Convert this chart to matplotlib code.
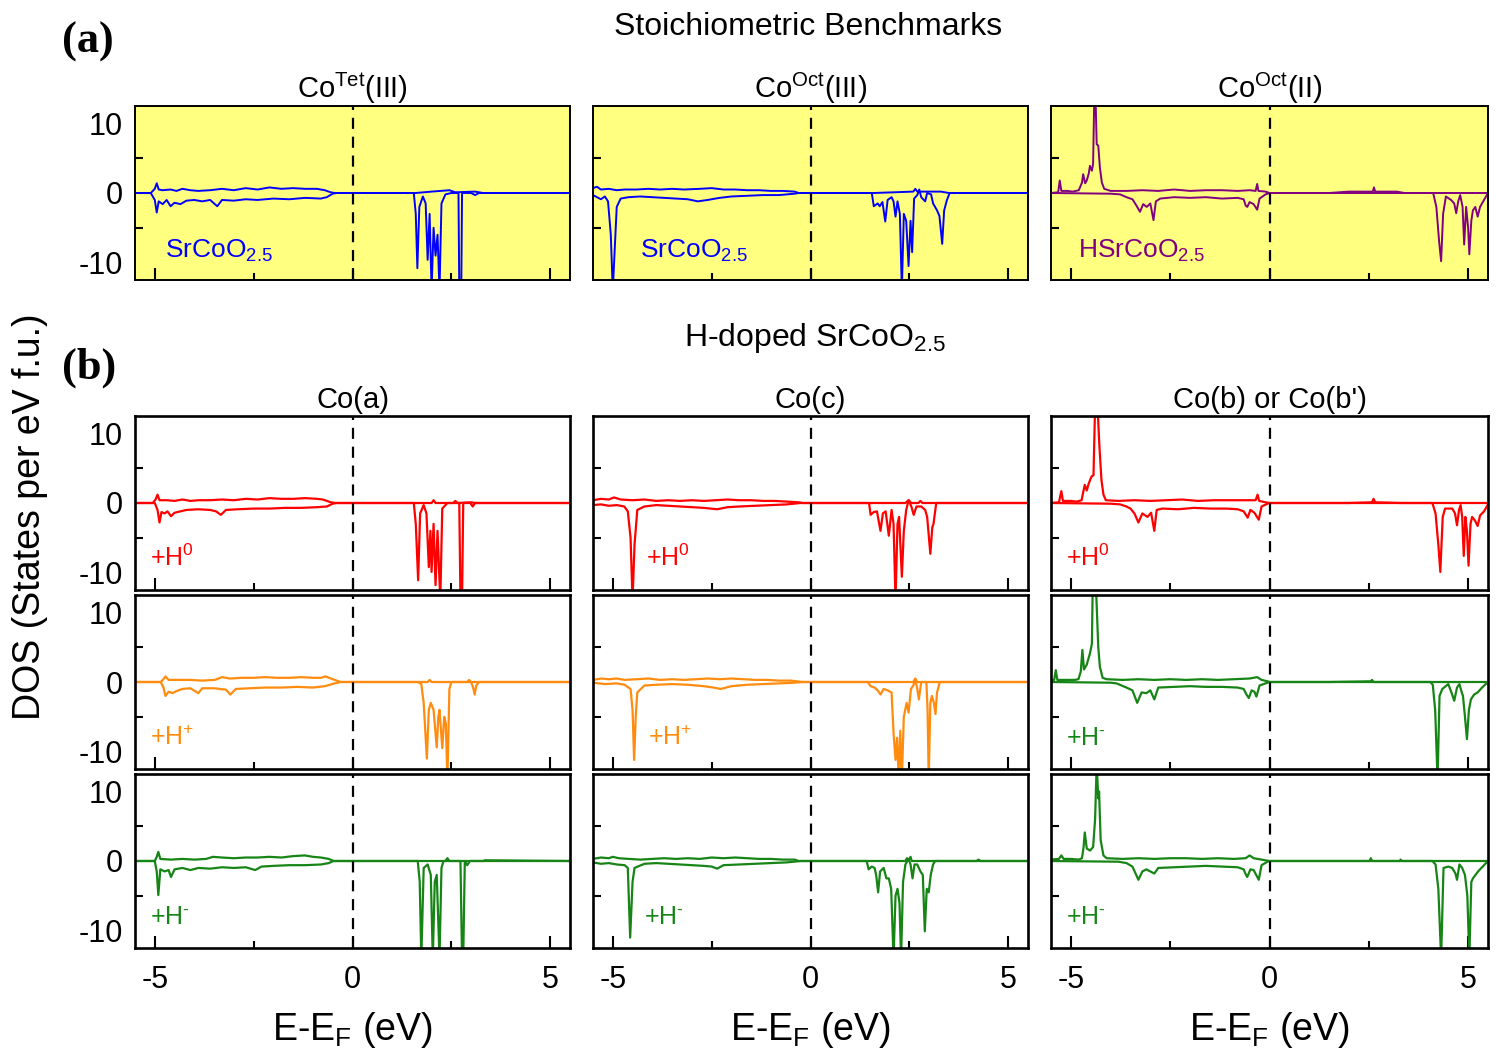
import numpy as np
import matplotlib.pyplot as plt

plt.rcParams['font.family'] = ['Liberation Sans', 'DejaVu Sans']
plt.rcParams['mathtext.fontset'] = 'custom'
plt.rcParams['mathtext.rm'] = 'Liberation Sans'
plt.rcParams['mathtext.it'] = 'Liberation Sans:italic'
plt.rcParams['mathtext.bf'] = 'Liberation Sans:bold'
plt.rcParams['axes.unicode_minus'] = False

# ---- data: (E - E_F [eV], DOS) pairs, spin up / spin down ----
# (a) stoichiometric benchmarks
tet3_up = [(-5.5, 0), (-5.1, 0), (-5.0, 0.6), (-4.95, 1.4), (-4.9, 0.5), (-4.8, 0.4), (-4.6, 0.5), (-4.45, 0.3),
           (-4.3, 0.6), (-4.1, 0.4), (-3.9, 0.3), (-3.6, 0.4), (-3.3, 0.6), (-3.0, 0.4), (-2.7, 0.7), (-2.4, 0.5),
           (-2.1, 0.8), (-1.8, 0.6), (-1.5, 0.7), (-1.2, 0.6), (-0.9, 0.6), (-0.7, 0.4), (-0.55, 0.1), (-0.45, 0),
           (1.6, 0), (2.0, 0.2), (2.45, 0.4), (2.6, 0.1), (3.1, 0.2), (3.3, 0), (5.5, 0)]
tet3_dn = [(-5.5, 0), (-5.1, 0), (-5.0, -1.0), (-4.95, -2.8), (-4.9, -1.2), (-4.8, -1.6), (-4.7, -1.0), (-4.6, -1.9),
           (-4.5, -1.4), (-4.35, -1.6), (-4.2, -1.1), (-4.0, -1.0), (-3.8, -1.2), (-3.6, -1.0), (-3.42, -1.9),
           (-3.3, -1.0), (-3.0, -1.1), (-2.7, -0.9), (-2.4, -1.0), (-2.0, -0.8), (-1.6, -0.9), (-1.2, -0.7),
           (-0.8, -0.8), (-0.65, -0.6), (-0.5, -0.1), (-0.4, 0), (1.55, 0), (1.6, -3), (1.64, -10.8), (1.69, -2),
           (1.78, -0.5), (1.85, -1.5), (1.9, -9.6), (1.95, -3), (2.0, -14), (2.05, -5), (2.1, -9.0), (2.15, -6),
           (2.2, -14), (2.25, -1.5), (2.35, -0.2), (2.5, 0), (2.68, 0), (2.7, -14), (2.75, -14), (2.77, 0),
           (3.0, 0), (3.1, -0.3), (3.2, 0), (5.5, 0)]

oct3_up = [(-5.5, 0.7), (-5.4, 0.9), (-5.3, 0.5), (-5.1, 0.6), (-4.9, 0.4), (-4.7, 0.5), (-4.4, 0.5), (-4.1, 0.6),
           (-3.8, 0.5), (-3.5, 0.6), (-3.2, 0.5), (-2.8, 0.6), (-2.5, 0.7), (-2.2, 0.5), (-1.9, 0.5), (-1.6, 0.4),
           (-1.3, 0.4), (-1.0, 0.3), (-0.7, 0.3), (-0.4, 0.2), (-0.3, 0), (1.6, 0), (2.6, 0.2), (2.65, 0.6),
           (2.7, 0.2), (3.3, 0.2), (3.5, 0), (5.5, 0)]
oct3_dn = [(-5.5, -0.3), (-5.4, -0.6), (-5.3, -0.9), (-5.2, -0.5), (-5.12, -1.2), (-5.05, -6), (-5.0, -14),
           (-4.95, -8), (-4.9, -2), (-4.8, -0.8), (-4.6, -0.6), (-4.3, -0.5), (-4.0, -0.6), (-3.7, -0.7),
           (-3.4, -0.8), (-3.1, -0.9), (-2.85, -1.2), (-2.6, -1.0), (-2.3, -0.7), (-2.0, -0.5), (-1.6, -0.4),
           (-1.2, -0.3), (-0.8, -0.3), (-0.4, -0.1), (-0.3, 0), (1.55, 0), (1.6, -1.9), (1.7, -1.5), (1.75, -1.9),
           (1.82, -1.3), (1.89, -4.1), (1.95, -1.0), (2.05, -0.6), (2.1, -1.2), (2.15, -3.4), (2.2, -1.2),
           (2.26, -3), (2.31, -14), (2.36, -3), (2.42, -4), (2.48, -10.5), (2.53, -4), (2.57, -8.5), (2.62, -0.8),
           (2.7, -0.3), (2.75, 0.5), (2.8, -0.6), (2.9, -1.2), (2.95, 0), (3.05, -0.2), (3.1, -1.5), (3.2, -2.5),
           (3.26, -3.3), (3.33, -7.3), (3.38, -2.5), (3.45, -1.0), (3.52, 0), (5.5, 0)]

oct2_up = [(-5.5, 0), (-5.32, 0.1), (-5.28, 1.8), (-5.24, 0.3), (-5.1, 0.3), (-4.95, 0.2), (-4.8, 0.4), (-4.72, 1.5),
           (-4.69, 2.7), (-4.64, 1.4), (-4.6, 1.8), (-4.55, 2.8), (-4.52, 3.9), (-4.47, 3.2), (-4.44, 4.2),
           (-4.41, 14), (-4.38, 14), (-4.35, 7.0), (-4.31, 6.8), (-4.27, 3.7), (-4.22, 1.5), (-4.16, 0.6),
           (-4.0, 0.3), (-3.6, 0.3), (-3.2, 0.4), (-2.8, 0.3), (-2.4, 0.5), (-2.0, 0.3), (-1.6, 0.4), (-1.2, 0.4),
           (-0.8, 0.3), (-0.5, 0.4), (-0.35, 0.3), (-0.31, 1.3), (-0.28, 0.3), (-0.1, 0.2), (0, 0), (1.5, 0),
           (2.0, 0.2), (2.6, 0.2), (2.63, 0.8), (2.66, 0.2), (3.2, 0.2), (3.4, 0), (5.5, 0)]
oct2_dn = [(-5.5, 0), (-4.0, -0.1), (-3.76, -0.2), (-3.6, -0.6), (-3.45, -0.9), (-3.35, -1.8), (-3.26, -2.7),
           (-3.18, -1.6), (-3.09, -2.0), (-3.0, -1.5), (-2.92, -3.9), (-2.86, -1.2), (-2.75, -0.8), (-2.4, -0.6),
           (-2.0, -0.7), (-1.6, -0.6), (-1.2, -0.8), (-0.8, -0.7), (-0.65, -0.9), (-0.6, -1.8), (-0.56, -2.0),
           (-0.5, -1.3), (-0.4, -1.6), (-0.31, -2.4), (-0.25, -0.8), (-0.1, -0.2), (0, 0), (4.12, 0), (4.2, -2),
           (4.27, -7), (4.32, -9.8), (4.37, -3), (4.44, -0.5), (4.57, -1.0), (4.65, -1.5), (4.7, -2.9),
           (4.75, -1.2), (4.8, -0.3), (4.86, -2), (4.9, -7.4), (4.95, -2), (5.0, -5), (5.03, -8.8), (5.08, -4),
           (5.12, -2.5), (5.18, -2.0), (5.24, -3.4), (5.3, -2.0), (5.38, -1.2), (5.45, -0.5), (5.5, 0)]

# (b) H-doped SrCoO2.5 -- Co(a)
coa_h0_up = [(-5.5, 0), (-5.05, 0), (-4.98, 0.5), (-4.93, 1.2), (-4.88, 0.4), (-4.7, 0.4), (-4.5, 0.3), (-4.3, 0.5),
             (-4.1, 0.3), (-3.9, 0.4), (-3.6, 0.4), (-3.3, 0.5), (-3.0, 0.4), (-2.7, 0.6), (-2.4, 0.5), (-2.1, 0.7),
             (-1.8, 0.6), (-1.5, 0.6), (-1.2, 0.7), (-0.9, 0.6), (-0.75, 0.5), (-0.55, 0.1), (-0.43, 0), (2.0, 0),
             (2.05, 0.4), (2.1, 0), (2.55, 0), (2.6, 0.3), (2.65, 0), (3.0, 0.1), (3.1, 0), (5.5, 0)]
coa_h0_dn = [(-5.5, 0), (-5.0, 0), (-4.93, -1.0), (-4.88, -2.8), (-4.83, -1.3), (-4.75, -1.5), (-4.68, -1.2),
             (-4.59, -1.9), (-4.5, -1.4), (-4.35, -1.2), (-4.2, -1.0), (-3.9, -0.9), (-3.6, -1.0), (-3.45, -1.2),
             (-3.33, -1.7), (-3.2, -1.0), (-2.9, -0.9), (-2.5, -0.8), (-2.1, -0.8), (-1.7, -0.7), (-1.3, -0.7),
             (-0.9, -0.6), (-0.65, -0.5), (-0.5, -0.1), (-0.4, 0), (1.55, 0), (1.6, -3), (1.66, -11.1), (1.71, -1.5),
             (1.8, -0.3), (1.87, -1.5), (1.93, -9.2), (1.97, -4), (2.0, -9.9), (2.05, -3), (2.1, -11.8), (2.15, -4),
             (2.22, -14), (2.27, -0.8), (2.4, 0), (2.7, 0), (2.73, -14), (2.77, -14), (2.8, 0), (2.98, 0),
             (3.04, -0.5), (3.1, 0), (5.5, 0)]
coa_hp_up = [(-5.5, 0), (-4.85, 0), (-4.78, 0.4), (-4.73, 0.8), (-4.65, 0.3), (-4.4, 0.3), (-4.1, 0.3), (-3.8, 0.2),
             (-3.48, 0.3), (-3.3, 0.7), (-3.1, 0.5), (-2.8, 0.6), (-2.5, 0.6), (-2.2, 0.7), (-1.9, 0.6), (-1.6, 0.6),
             (-1.3, 0.7), (-1.0, 0.6), (-0.8, 0.6), (-0.68, 0.8), (-0.5, 0.4), (-0.3, 0), (1.9, 0), (1.95, 0.3),
             (2.0, 0), (2.9, 0), (2.95, 0.3), (3.0, 0), (5.5, 0)]
coa_hp_dn = [(-5.5, 0), (-4.85, 0), (-4.78, -0.8), (-4.73, -2.0), (-4.65, -1.4), (-4.55, -1.6), (-4.45, -1.3),
             (-4.3, -1.0), (-4.1, -0.9), (-3.9, -1.6), (-3.8, -0.9), (-3.5, -0.9), (-3.2, -1.1), (-3.09, -1.8),
             (-2.95, -1.0), (-2.6, -0.9), (-2.2, -0.8), (-1.8, -0.8), (-1.4, -0.7), (-1.0, -0.8), (-0.7, -0.6),
             (-0.45, -0.2), (-0.3, 0), (1.65, 0), (1.74, -0.3), (1.8, -3), (1.88, -11.0), (1.93, -4), (1.98, -3),
             (2.05, -4), (2.13, -9.4), (2.17, -5), (2.2, -4), (2.27, -9.5), (2.32, -5), (2.36, -6), (2.4, -14),
             (2.45, -1.0), (2.5, 0), (3.0, 0), (3.05, -0.8), (3.09, -1.8), (3.13, -0.5), (3.2, 0), (5.5, 0)]
coa_hm_up = [(-5.5, 0), (-5.0, 0), (-4.95, 0.6), (-4.91, 1.3), (-4.86, 0.3), (-4.6, 0.2), (-4.3, 0.3), (-4.0, 0.2),
             (-3.7, 0.3), (-3.53, 0.6), (-3.3, 0.5), (-3.0, 0.4), (-2.7, 0.5), (-2.4, 0.5), (-2.1, 0.6), (-1.8, 0.5),
             (-1.5, 0.7), (-1.21, 0.8), (-1.0, 0.6), (-0.8, 0.5), (-0.6, 0.3), (-0.48, 0), (2.35, 0), (2.4, 0.4),
             (2.45, 0), (3.3, 0), (3.35, 0.1), (5.5, 0)]
coa_hm_dn = [(-5.5, 0), (-5.0, 0), (-4.95, -1.5), (-4.91, -4.9), (-4.86, -1.2), (-4.75, -1.5), (-4.65, -1.3),
             (-4.59, -2.3), (-4.5, -1.2), (-4.3, -1.0), (-4.1, -1.3), (-3.9, -1.0), (-3.6, -1.1), (-3.3, -0.9),
             (-3.0, -1.0), (-2.7, -0.9), (-2.46, -1.3), (-2.3, -0.8), (-2.0, -0.7), (-1.6, -0.6), (-1.2, -0.6),
             (-0.8, -0.5), (-0.6, -0.3), (-0.48, 0), (1.65, 0), (1.7, -3), (1.74, -14), (1.8, -1), (1.9, -0.5),
             (1.98, -2), (2.03, -14), (2.08, -3), (2.13, -2), (2.2, -14), (2.25, -1), (2.3, 0), (2.73, 0),
             (2.77, -14), (2.8, -14), (2.84, 0), (2.9, -0.6), (2.97, 0), (5.5, 0)]

# Co(c)
coc_h0_up = [(-5.5, 0.4), (-5.3, 0.6), (-5.1, 0.5), (-4.97, 0.8), (-4.8, 0.5), (-4.5, 0.4), (-4.2, 0.5), (-3.9, 0.3),
             (-3.6, 0.4), (-3.3, 0.3), (-3.0, 0.4), (-2.7, 0.3), (-2.4, 0.4), (-2.1, 0.5), (-1.8, 0.4), (-1.5, 0.4),
             (-1.2, 0.3), (-0.9, 0.3), (-0.6, 0.2), (-0.3, 0.1), (-0.2, 0), (2.4, 0), (2.48, 0.4), (2.55, 0),
             (2.73, 0), (2.78, 0.3), (2.83, 0), (3.3, 0), (5.5, 0)]
coc_h0_dn = [(-5.5, -0.3), (-5.3, -0.2), (-5.1, -0.4), (-4.9, -0.3), (-4.71, -0.5), (-4.62, -1.2), (-4.55, -5),
             (-4.5, -14), (-4.45, -6), (-4.38, -1.0), (-4.2, -0.5), (-3.9, -0.3), (-3.6, -0.4), (-3.3, -0.5),
             (-3.0, -0.6), (-2.7, -0.7), (-2.36, -0.9), (-2.1, -0.6), (-1.8, -0.5), (-1.4, -0.4), (-1.0, -0.3),
             (-0.6, -0.2), (-0.25, 0), (1.48, 0), (1.52, -1.7), (1.6, -1.3), (1.68, -1.2), (1.77, -4.0), (1.83, -1.5),
             (1.9, -1.2), (1.98, -4.7), (2.05, -1.0), (2.1, -3), (2.15, -14), (2.2, -3), (2.24, -2), (2.31, -10.6),
             (2.36, -4), (2.42, -1), (2.48, 0.4), (2.55, -0.5), (2.61, -1.7), (2.68, -0.5), (2.8, -0.5), (2.9, -1.0),
             (2.95, -2), (3.03, -7.3), (3.08, -3.5), (3.11, -3), (3.18, 0), (5.5, 0)]
coc_hp_up = [(-5.5, 0.3), (-5.3, 0.5), (-5.1, 0.4), (-4.9, 0.5), (-4.7, 0.3), (-4.4, 0.4), (-4.1, 0.5), (-3.8, 0.3),
             (-3.5, 0.4), (-3.2, 0.3), (-2.9, 0.4), (-2.6, 0.5), (-2.3, 0.4), (-2.0, 0.5), (-1.7, 0.4), (-1.4, 0.3),
             (-1.1, 0.3), (-0.8, 0.2), (-0.5, 0.2), (-0.2, 0), (2.6, 0), (2.65, 0.5), (2.7, 0), (3.6, 0), (5.5, 0)]
coc_hp_dn = [(-5.5, -0.1), (-5.2, -0.3), (-4.9, -0.2), (-4.7, -0.4), (-4.55, -1.0), (-4.5, -4), (-4.46, -11.2),
             (-4.42, -5), (-4.38, -1.5), (-4.2, -0.5), (-3.9, -0.4), (-3.5, -0.3), (-3.1, -0.4), (-2.7, -0.6),
             (-2.45, -0.8), (-2.27, -1.0), (-2.0, -0.6), (-1.6, -0.4), (-1.2, -0.3), (-0.8, -0.2), (-0.4, -0.1),
             (-0.2, 0), (1.45, 0), (1.52, -0.6), (1.62, -0.8), (1.7, -1.2), (1.77, -1.8), (1.85, -1.0), (1.95, -1.2),
             (2.05, -1.5), (2.1, -7.3), (2.15, -11.2), (2.19, -8), (2.23, -14), (2.27, -7), (2.31, -14), (2.36, -5),
             (2.43, -3), (2.48, -4.4), (2.54, -1.0), (2.6, -0.5), (2.65, 0.4), (2.7, -1.0), (2.74, -2.5), (2.8, 0),
             (2.93, 0), (2.96, -4), (2.99, -14), (3.03, -3), (3.07, -2), (3.12, -3), (3.16, -4.6), (3.2, -1.5),
             (3.27, 0), (5.5, 0)]
coc_hm_up = [(-5.5, 0.3), (-5.3, 0.5), (-5.1, 0.4), (-5.0, 0.6), (-4.85, 0.4), (-4.6, 0.3), (-4.3, 0.2), (-4.0, 0.3),
             (-3.7, 0.4), (-3.4, 0.3), (-3.1, 0.4), (-2.8, 0.3), (-2.5, 0.5), (-2.2, 0.4), (-1.9, 0.5), (-1.6, 0.4),
             (-1.3, 0.3), (-1.0, 0.3), (-0.7, 0.2), (-0.4, 0.2), (-0.3, 0), (2.4, 0), (2.44, 0.4), (2.48, 0.1),
             (2.53, 0.6), (2.56, 0), (4.2, 0), (4.25, 0.2), (4.3, 0), (5.5, 0)]
coc_hm_dn = [(-5.5, -0.2), (-5.3, -0.4), (-5.1, -0.3), (-4.9, -0.5), (-4.7, -0.6), (-4.62, -1.0), (-4.56, -11.0),
             (-4.5, -3), (-4.45, -1.0), (-4.2, -0.4), (-3.9, -0.3), (-3.6, -0.4), (-3.3, -0.5), (-3.0, -0.6),
             (-2.7, -0.7), (-2.5, -0.8), (-2.36, -1.1), (-2.2, -0.6), (-1.8, -0.5), (-1.4, -0.4), (-1.0, -0.3),
             (-0.6, -0.2), (-0.25, 0), (1.42, 0), (1.47, -1.2), (1.55, -0.8), (1.62, -1.0), (1.66, -2), (1.71, -4.5),
             (1.76, -1.5), (1.85, -1.0), (1.92, -2.5), (1.98, -2.5), (2.04, -4), (2.1, -14), (2.15, -5), (2.2, -4),
             (2.25, -6), (2.29, -14), (2.34, -3), (2.4, -0.5), (2.48, 0.3), (2.53, -0.5), (2.58, -2.5), (2.63, -0.5),
             (2.7, -0.5), (2.78, -1.5), (2.84, -2), (2.89, -10.1), (2.94, -4), (2.99, -4.5), (3.04, -2), (3.1, -0.5),
             (3.15, 0), (5.5, 0)]

# Co(b) or Co(b')
cob_h0_up = [(-5.5, 0), (-5.3, 0.1), (-5.24, 1.7), (-5.2, 0.3), (-5.0, 0.3), (-4.85, 0.2), (-4.73, 0.4), (-4.68, 1.8),
             (-4.65, 2.6), (-4.6, 1.8), (-4.55, 2.8), (-4.48, 3.8), (-4.43, 4.0), (-4.39, 14), (-4.33, 14),
             (-4.28, 8.0), (-4.23, 3.3), (-4.18, 1.2), (-4.12, 0.4), (-3.8, 0.3), (-3.4, 0.4), (-3.0, 0.3),
             (-2.6, 0.4), (-2.2, 0.5), (-1.8, 0.3), (-1.4, 0.4), (-1.0, 0.4), (-0.6, 0.4), (-0.35, 0.4), (-0.3, 1.2),
             (-0.26, 0.3), (-0.1, 0.1), (0, 0), (2.0, 0), (2.58, 0.1), (2.62, 0.6), (2.66, 0.1), (3.3, 0), (5.5, 0)]
cob_h0_dn = [(-5.5, 0), (-4.0, -0.1), (-3.76, -0.2), (-3.6, -0.5), (-3.5, -0.8), (-3.4, -1.5), (-3.3, -2.8),
             (-3.2, -1.5), (-3.07, -2.0), (-2.98, -1.4), (-2.9, -4.0), (-2.84, -1.0), (-2.7, -0.8), (-2.3, -0.9),
             (-1.9, -0.7), (-1.5, -0.8), (-1.1, -0.8), (-0.8, -0.9), (-0.65, -1.2), (-0.55, -2.1), (-0.48, -1.0),
             (-0.38, -1.4), (-0.27, -2.4), (-0.2, -0.5), (-0.05, -0.1), (0, 0), (4.1, 0), (4.18, -1.5), (4.25, -6),
             (4.3, -9.9), (4.36, -2), (4.42, -0.8), (4.6, -0.8), (4.67, -1.5), (4.72, -3.2), (4.77, -1.0),
             (4.81, -0.3), (4.85, -2), (4.89, -7.6), (4.93, -2), (4.97, -4), (5.01, -9.0), (5.06, -3), (5.1, -2),
             (5.17, -2.5), (5.24, -3.3), (5.3, -1.8), (5.4, -1.2), (5.5, -0.2)]
cob_hm_up = [(-5.5, 0.2), (-5.42, 0.3), (-5.38, 1.7), (-5.34, 0.3), (-5.1, 0.3), (-4.9, 0.3), (-4.81, 0.4),
             (-4.75, 1.5), (-4.71, 4.6), (-4.67, 1.8), (-4.6, 2.5), (-4.52, 4.1), (-4.47, 5.5), (-4.45, 14),
             (-4.37, 14), (-4.31, 5.0), (-4.27, 2.2), (-4.2, 0.6), (-4.1, 0.4), (-3.7, 0.3), (-3.3, 0.4), (-2.9, 0.3),
             (-2.5, 0.4), (-2.1, 0.3), (-1.7, 0.4), (-1.3, 0.3), (-0.9, 0.4), (-0.5, 0.5), (-0.31, 0.7), (-0.2, 0.3),
             (-0.05, 0.1), (0, 0), (1.5, 0), (2.55, 0.1), (2.58, 0.3), (2.62, 0), (5.5, 0)]
cob_hm_dn = [(-5.5, 0), (-4.0, -0.1), (-3.85, -0.2), (-3.6, -0.8), (-3.45, -1.2), (-3.33, -3.0), (-3.22, -1.5),
             (-3.1, -1.6), (-3.0, -1.2), (-2.9, -2.5), (-2.8, -0.8), (-2.4, -0.7), (-2.0, -0.6), (-1.6, -0.7),
             (-1.2, -0.7), (-0.8, -0.8), (-0.65, -1.0), (-0.58, -1.8), (-0.52, -2.3), (-0.45, -1.2), (-0.38, -1.4),
             (-0.33, -2.1), (-0.25, -0.5), (-0.05, -0.1), (0, 0), (4.05, 0), (4.11, -0.4), (4.17, -4), (4.23, -14),
             (4.28, -2), (4.35, -1.0), (4.5, -0.3), (4.58, -1.5), (4.65, -2.7), (4.72, -0.8), (4.78, -0.3),
             (4.84, -1.5), (4.87, -2.0), (4.92, -5), (4.97, -8.2), (5.02, -4), (5.07, -2.5), (5.15, -1.8),
             (5.24, -1.5), (5.35, -0.8), (5.5, 0)]
cobp_hm_up = [(-5.5, 0.2), (-5.3, 0.3), (-5.24, 0.8), (-5.18, 0.3), (-5.0, 0.3), (-4.8, 0.2), (-4.72, 0.4),
              (-4.68, 2.0), (-4.65, 4.1), (-4.6, 1.8), (-4.52, 1.5), (-4.44, 2.0), (-4.39, 6), (-4.35, 14),
              (-4.31, 9), (-4.29, 10), (-4.25, 3), (-4.18, 0.8), (-4.1, 0.4), (-3.7, 0.3), (-3.3, 0.4), (-2.9, 0.3),
              (-2.5, 0.4), (-2.1, 0.4), (-1.7, 0.3), (-1.3, 0.4), (-0.9, 0.3), (-0.6, 0.4), (-0.5, 0.8), (-0.4, 0.4),
              (-0.2, 0.2), (0, 0), (1.5, 0), (2.52, 0), (2.55, 0.4), (2.58, 0), (3.28, 0), (3.3, 0.2), (3.33, 0),
              (5.5, 0)]
cobp_hm_dn = [(-5.5, 0), (-3.8, -0.1), (-3.6, -0.3), (-3.45, -0.8), (-3.3, -2.7), (-3.2, -1.5), (-3.1, -1.2),
              (-3.0, -1.5), (-2.9, -1.8), (-2.8, -1.0), (-2.4, -0.9), (-2.0, -0.8), (-1.6, -0.7), (-1.2, -0.8),
              (-0.8, -0.9), (-0.65, -1.2), (-0.6, -1.9), (-0.56, -2.3), (-0.48, -1.2), (-0.4, -1.3), (-0.27, -2.7),
              (-0.2, -0.6), (-0.05, -0.1), (0, 0), (4.1, 0), (4.18, -0.5), (4.25, -4), (4.32, -14), (4.38, -1.0),
              (4.5, -0.8), (4.6, -1.0), (4.68, -1.8), (4.72, -2.7), (4.78, -0.5), (4.85, -1.0), (4.92, -2.0),
              (4.98, -5), (5.03, -14), (5.08, -3), (5.12, -2.5), (5.25, -1.5), (5.4, -0.6), (5.5, 0)]

top_titles = [r'Co$^{\mathrm{Tet}}$(III)', r'Co$^{\mathrm{Oct}}$(III)', r'Co$^{\mathrm{Oct}}$(II)']
top_labels = [r'SrCoO$_{2.5}$', r'SrCoO$_{2.5}$', r'HSrCoO$_{2.5}$']
bottom_titles = ['Co(a)', 'Co(c)', "Co(b) or Co(b')"]
h0_lab, hp_lab, hm_lab = r'+H$^{0}$', r'+H$^{+}$', r'+H$^{\text{-}}$'
x_ticks = [-5, 0, 5]
y_ticks = [-10, 0, 10]

BLUE, PURPLE = '#0000ff', '#800080'
RED, ORANGE, GREEN = '#ff0000', '#ff8c0f', '#168516'
YELLOW = '#ffff80'

# panels: (col, spin up, spin down, colour, label, label x)
panels_top = [
    (0, tet3_up, tet3_dn, BLUE, top_labels[0], -4.75),
    (1, oct3_up, oct3_dn, BLUE, top_labels[1], -4.32),
    (2, oct2_up, oct2_dn, PURPLE, top_labels[2], -4.82),
]
# (row, col, spin up, spin down, colour, label, label x)
panels_bot = [
    (0, 0, coa_h0_up, coa_h0_dn, RED, h0_lab, -5.12),
    (1, 0, coa_hp_up, coa_hp_dn, ORANGE, hp_lab, -5.12),
    (2, 0, coa_hm_up, coa_hm_dn, GREEN, hm_lab, -5.12),
    (0, 1, coc_h0_up, coc_h0_dn, RED, h0_lab, -4.17),
    (1, 1, coc_hp_up, coc_hp_dn, ORANGE, hp_lab, -4.12),
    (2, 1, coc_hm_up, coc_hm_dn, GREEN, hm_lab, -4.2),
    (0, 2, cob_h0_up, cob_h0_dn, RED, h0_lab, -5.13),
    (1, 2, cob_hm_up, cob_hm_dn, GREEN, hm_lab, -5.13),
    (2, 2, cobp_hm_up, cobp_hm_dn, GREEN, hm_lab, -5.13),
]

W, H = 1512, 1063
fig = plt.figure(figsize=(W / 100, H / 100), dpi=100)

col_x = [(135, 570), (593, 1028), (1051, 1488)]
top_y = (106, 280)
bot_y = [(416, 590), (595, 769), (774, 948)]


def px_axes(x0, x1, y0, y1):
    return fig.add_axes([x0 / W, 1 - y1 / H, (x1 - x0) / W, (y1 - y0) / H])


def style(ax, bg, lw_frame, show_x, show_y):
    ax.set_facecolor(bg)
    ax.set_xlim(-5.5, 5.5)
    ax.set_ylim(-12.5, 12.5)
    ax.set_xticks(x_ticks)
    ax.set_xticks([-2.5, 2.5], minor=True)
    ax.set_yticks(y_ticks)
    ax.set_yticks([-5, 5], minor=True)
    ax.tick_params(axis='x', which='major', direction='in', length=8.5, width=1.5,
                   labelsize=22, pad=12, labelbottom=show_x)
    ax.tick_params(axis='x', which='minor', direction='in', length=5, width=1.5)
    ax.tick_params(axis='y', which='major', length=0, labelsize=22, pad=9, labelleft=show_y)
    ax.tick_params(axis='y', which='minor', direction='in', length=5.5, width=1.5)
    for s in ax.spines.values():
        s.set_linewidth(lw_frame)
    ax.axvline(0, color='k', lw=1.6, ls=(0, (5, 3.5)), zorder=3)


def curve(ax, pts, color, lw):
    arr = np.array(pts)
    ax.plot(arr[:, 0], arr[:, 1], color=color, lw=lw, zorder=2)


for col, up, dn, color, lab, lx in panels_top:
    ax = px_axes(*col_x[col], *top_y)
    style(ax, YELLOW, 1.4, False, col == 0)
    curve(ax, up, color, 1.4)
    curve(ax, dn, color, 1.4)
    ax.text(lx, -9.3, lab, color=color, fontsize=19, va='baseline', ha='left')
    ax.set_title(top_titles[col], fontsize=21, pad=4)

for row, col, up, dn, color, lab, lx in panels_bot:
    ax = px_axes(*col_x[col], *bot_y[row])
    style(ax, 'white', 1.9, row == 2, col == 0)
    curve(ax, up, color, 1.6)
    curve(ax, dn, color, 1.6)
    ax.text(lx, -9.1, lab, color=color, fontsize=18, va='baseline', ha='left')
    if row == 0:
        ax.set_title(bottom_titles[col], fontsize=21, pad=6)
    if row == 2:
        xc = (col_x[col][0] + col_x[col][1]) / 2
        fig.text(xc / W, 1 - 1030 / H, r'E-E$_{\mathrm{F}}$ (eV)', fontsize=27, ha='center', va='center')

fig.text(808 / W, 1 - 27 / H, 'Stoichiometric Benchmarks', fontsize=23, ha='center', va='center')
fig.text(815 / W, 1 - 338 / H, r'H-doped SrCoO$_{2.5}$', fontsize=23, ha='center', va='center')
fig.text(62 / W, 1 - 42 / H, '(a)', fontsize=32, fontweight='bold', family='Liberation Serif',
         ha='left', va='center')
fig.text(62 / W, 1 - 368 / H, '(b)', fontsize=32, fontweight='bold', family='Liberation Serif',
         ha='left', va='center')
fig.text(30 / W, 1 - 517 / H, 'DOS (States per eV f.u.)', fontsize=27, rotation=90,
         ha='center', va='center')

fig.savefig('out.png', dpi=100)
